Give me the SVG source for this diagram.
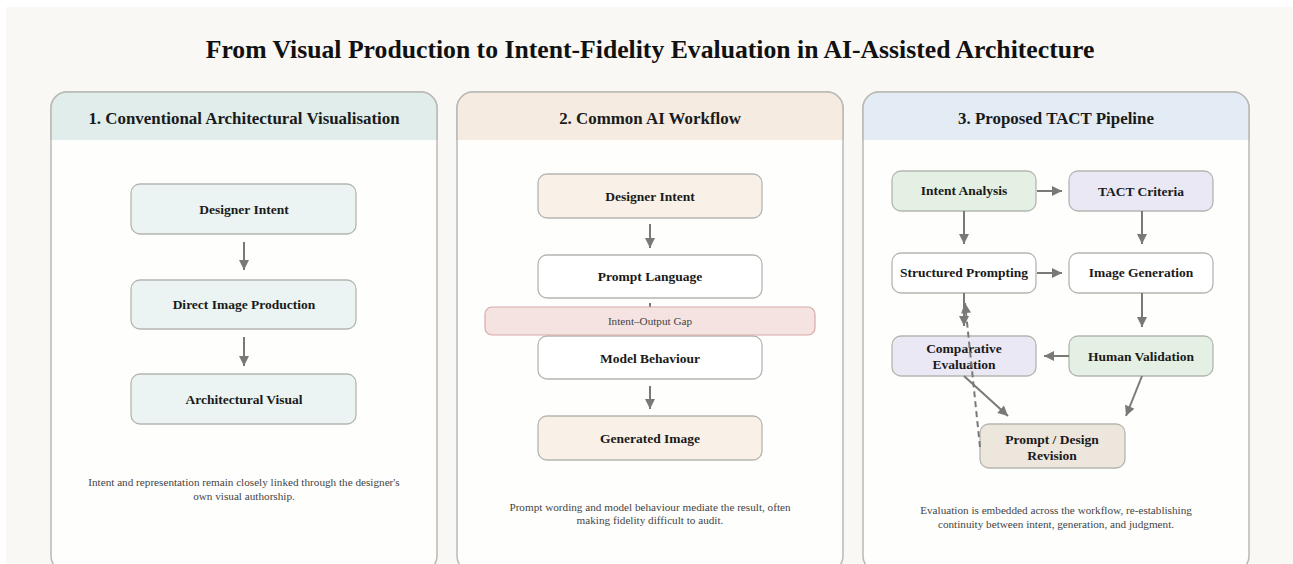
<svg xmlns="http://www.w3.org/2000/svg" width="1293" height="564" viewBox="0 0 1293 564">
<style>
.title{font-family:"Liberation Serif","Times New Roman",serif;font-weight:bold;font-size:25.7px;fill:#111;text-anchor:middle}
.head{font-family:"Liberation Serif","Times New Roman",serif;font-weight:bold;font-size:16.9px;fill:#1a1a1a;text-anchor:middle}
.lbl{font-family:"Liberation Serif","Times New Roman",serif;font-weight:bold;font-size:13.5px;fill:#1a1a1a;text-anchor:middle}
.cap{font-family:"Liberation Serif","Times New Roman",serif;font-size:11.2px;fill:#444;text-anchor:middle}
.panel{fill:#fefefd;stroke:#b9b9b5;stroke-width:1.5}
.node{stroke:#b4b6b0;stroke-width:1.3}
.conn{stroke:#787a75;stroke-width:2;fill:none}
.dash{stroke-dasharray:6 4}
</style>
<defs>
<marker id="ah" viewBox="0 0 10 10" refX="10" refY="5" markerWidth="11" markerHeight="10" markerUnits="userSpaceOnUse" orient="auto">
<path d="M0,0 L10,5 L0,10 z" fill="#787a75"/>
</marker>
</defs>
<rect x="6" y="7" width="1287" height="557" fill="#f9f8f5"/>
<text class="title" x="650" y="58">From Visual Production to Intent-Fidelity Evaluation in AI-Assisted Architecture</text>

<g id="panel1">
<rect class="panel" x="51" y="92" width="386" height="480" rx="16"/>
<path d="M51,140 V108 A16,16 0 0 1 67,92 H421 A16,16 0 0 1 437,108 V140 Z" fill="#e0edeb"/>
<path d="M51,140 V108 A16,16 0 0 1 67,92 H421 A16,16 0 0 1 437,108 V140" fill="none" stroke="#b9b9b5" stroke-width="1.5"/>
<text class="head" x="244" y="124">1. Conventional Architectural Visualisation</text>
<text class="cap" x="244" y="486">Intent and representation remain closely linked through the designer's</text>
<text class="cap" x="244" y="500">own visual authorship.</text>
</g>
<g id="panel2">
<rect class="panel" x="457" y="92" width="386" height="480" rx="16"/>
<path d="M457,140 V108 A16,16 0 0 1 473,92 H827 A16,16 0 0 1 843,108 V140 Z" fill="#f5ebe0"/>
<path d="M457,140 V108 A16,16 0 0 1 473,92 H827 A16,16 0 0 1 843,108 V140" fill="none" stroke="#b9b9b5" stroke-width="1.5"/>
<text class="head" x="650" y="124">2. Common AI Workflow</text>
<text class="cap" x="650" y="511">Prompt wording and model behaviour mediate the result, often</text>
<text class="cap" x="650" y="524">making fidelity difficult to audit.</text>
</g>
<g id="panel3">
<rect class="panel" x="863" y="92" width="386" height="480" rx="16"/>
<path d="M863,140 V108 A16,16 0 0 1 879,92 H1233 A16,16 0 0 1 1249,108 V140 Z" fill="#e3ebf5"/>
<path d="M863,140 V108 A16,16 0 0 1 879,92 H1233 A16,16 0 0 1 1249,108 V140" fill="none" stroke="#b9b9b5" stroke-width="1.5"/>
<text class="head" x="1056" y="124">3. Proposed TACT Pipeline</text>
<text class="cap" x="1056" y="514">Evaluation is embedded across the workflow, re-establishing</text>
<text class="cap" x="1056" y="528">continuity between intent, generation, and judgment.</text>
</g>

<g id="p1-designer-intent"><rect class="node" x="131" y="184" width="225" height="50" rx="9" fill="#ebf4f2"/><text class="lbl" x="244" y="214">Designer Intent</text></g>
<g id="p1-direct-image"><rect class="node" x="131" y="280" width="225" height="49" rx="9" fill="#ebf4f2"/><text class="lbl" x="244" y="309">Direct Image Production</text></g>
<g id="p1-arch-visual"><rect class="node" x="131" y="374" width="225" height="50" rx="9" fill="#ebf4f2"/><text class="lbl" x="244" y="404">Architectural Visual</text></g>

<g id="p2-designer-intent"><rect class="node" x="538" y="174" width="224" height="44" rx="9" fill="#f9f1e8"/><text class="lbl" x="650" y="201">Designer Intent</text></g>
<g id="p2-prompt-language"><rect class="node" x="538" y="255" width="224" height="43" rx="9" fill="#ffffff"/><text class="lbl" x="650" y="281">Prompt Language</text></g>
<g id="p2-model-behaviour"><rect class="node" x="538" y="336" width="224" height="43" rx="9" fill="#ffffff"/><text class="lbl" x="650" y="363">Model Behaviour</text></g>
<g id="p2-generated-image"><rect class="node" x="538" y="416" width="224" height="44" rx="9" fill="#f9f1e8"/><text class="lbl" x="650" y="443">Generated Image</text></g>

<g id="p3-intent-analysis"><rect class="node" x="892" y="171" width="144" height="40" rx="9" fill="#e3f0e3"/><text class="lbl" x="964" y="195">Intent Analysis</text></g>
<g id="p3-tact-criteria"><rect class="node" x="1069" y="171" width="144" height="40" rx="9" fill="#ebe8f5"/><text class="lbl" x="1141" y="196">TACT Criteria</text></g>
<g id="p3-structured-prompting"><rect class="node" x="892" y="253" width="144" height="40" rx="9" fill="#ffffff"/><text class="lbl" x="964" y="277">Structured Prompting</text></g>
<g id="p3-image-generation"><rect class="node" x="1069" y="253" width="144" height="40" rx="9" fill="#ffffff"/><text class="lbl" x="1141" y="277">Image Generation</text></g>
<g id="p3-comparative-evaluation"><rect class="node" x="892" y="336" width="144" height="40" rx="9" fill="#ebe8f5"/><text class="lbl" x="964" y="353">Comparative</text><text class="lbl" x="964" y="369">Evaluation</text></g>
<g id="p3-human-validation"><rect class="node" x="1069" y="336" width="144" height="40" rx="9" fill="#e3f0e3"/><text class="lbl" x="1141" y="361">Human Validation</text></g>
<g id="p3-prompt-revision"><rect class="node" x="980" y="424" width="145" height="44" rx="9" fill="#ede6dd"/><text class="lbl" x="1052" y="444">Prompt / Design</text><text class="lbl" x="1052" y="460">Revision</text></g>

<g id="connectors">
<line class="conn" x1="244" y1="242" x2="244" y2="270" marker-end="url(#ah)"/>
<line class="conn" x1="244" y1="337" x2="244" y2="366" marker-end="url(#ah)"/>
<line class="conn" x1="650" y1="224" x2="650" y2="248" marker-end="url(#ah)"/>
<line class="conn" x1="650" y1="303" x2="650" y2="312"/>
<line class="conn" x1="650" y1="386" x2="650" y2="409" marker-end="url(#ah)"/>
<line class="conn" x1="1037" y1="191" x2="1062" y2="191" marker-end="url(#ah)"/>
<line class="conn" x1="964" y1="211" x2="964" y2="244" marker-end="url(#ah)"/>
<line class="conn" x1="1142" y1="211" x2="1142" y2="244" marker-end="url(#ah)"/>
<line class="conn" x1="1037" y1="273" x2="1062" y2="273" marker-end="url(#ah)"/>
<line class="conn" x1="1142" y1="293" x2="1142" y2="327" marker-end="url(#ah)"/>
<line class="conn" x1="964" y1="293" x2="964" y2="326" marker-end="url(#ah)"/>
<line class="conn" x1="1069" y1="356" x2="1044" y2="356" marker-end="url(#ah)"/>
<line class="conn" x1="1142" y1="376" x2="1126" y2="416" marker-end="url(#ah)"/>
<line class="conn" x1="964" y1="376" x2="1008" y2="416" marker-end="url(#ah)"/>
<line class="conn dash" x1="980" y1="447" x2="965" y2="303" marker-end="url(#ah)"/>
</g>

<g id="p2-gap"><rect x="485" y="307" width="330" height="28" rx="7" fill="#f5e3e1" stroke="#d6aaa8" stroke-width="1.2"/><text class="cap" x="650" y="325">Intent–Output Gap</text></g>
</svg>
